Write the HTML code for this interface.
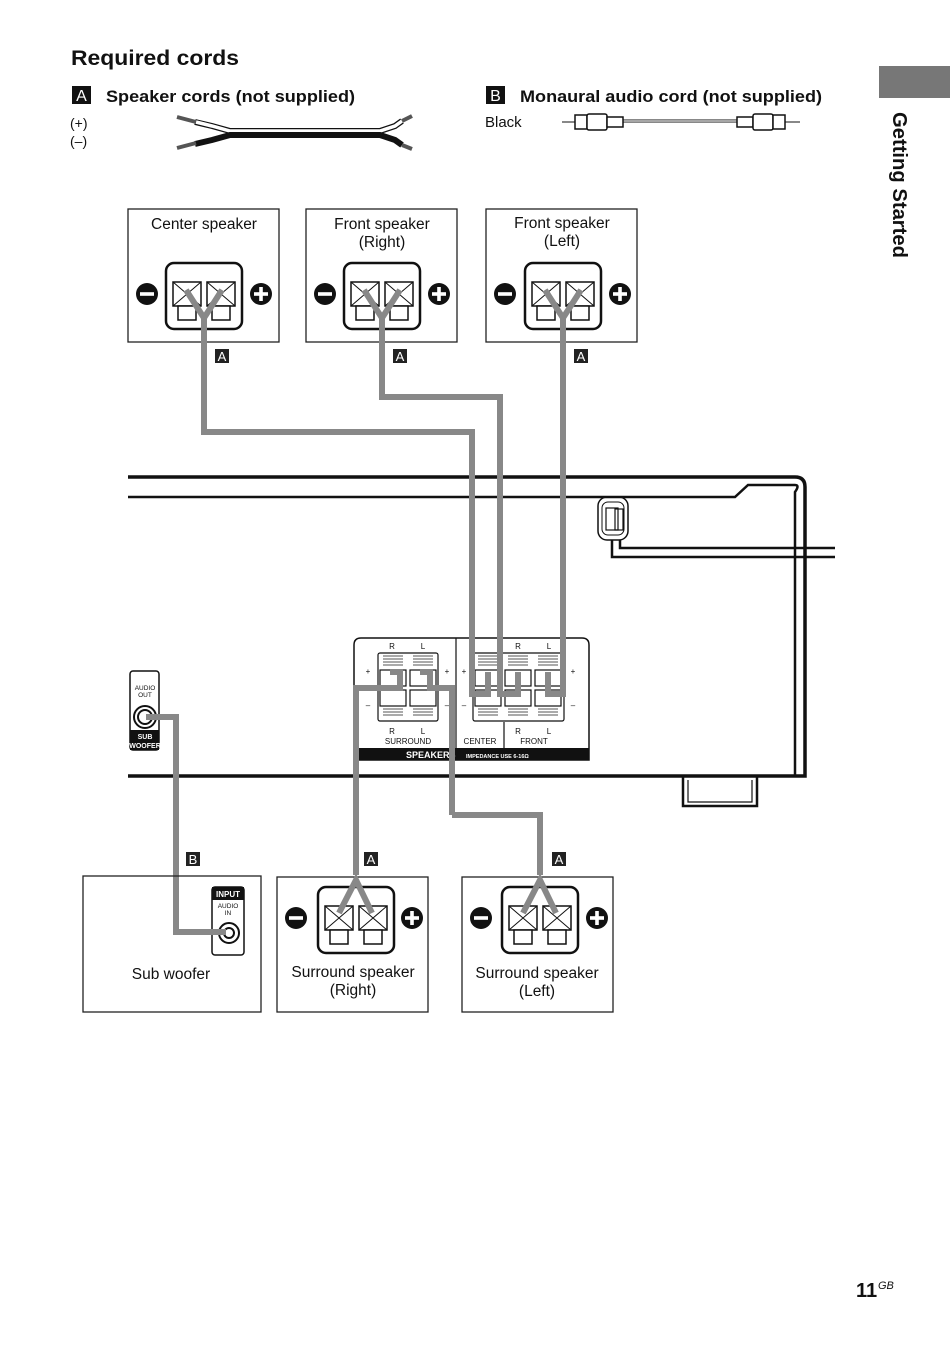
<!DOCTYPE html>
<html><head><meta charset="utf-8"><style>
html,body{margin:0;padding:0;background:#fff}
svg{display:block}
text{font-family:"Liberation Sans",Arial,sans-serif}
</style></head><body>
<svg width="950" height="1345" viewBox="0 0 950 1345" xmlns="http://www.w3.org/2000/svg">
<defs>
<g id="term">
  <rect x="-38" y="-31" width="76" height="66" rx="8" fill="#fff" stroke="#111" stroke-width="2.5"/>
  <rect x="-31" y="-12" width="28" height="24" fill="#fff" stroke="#111" stroke-width="1.5"/>
  <rect x="3" y="-12" width="28" height="24" fill="#fff" stroke="#111" stroke-width="1.5"/>
  <path d="M-31 -12 L-3 12 M-3 -12 L-31 12 M3 -12 L31 12 M31 -12 L3 12" stroke="#111" stroke-width="1"/>
  <rect x="-26" y="12" width="18" height="14" fill="#fff" stroke="#111" stroke-width="1.5"/>
  <rect x="8" y="12" width="18" height="14" fill="#fff" stroke="#111" stroke-width="1.5"/>
</g>
<g id="minus"><circle r="11" fill="#111"/><rect x="-7" y="-1.8" width="14" height="3.6" fill="#fff"/></g>
<g id="plus"><circle r="11" fill="#111"/><rect x="-7" y="-1.8" width="14" height="3.6" fill="#fff"/><rect x="-1.8" y="-7" width="3.6" height="14" fill="#fff"/></g>
<g id="lblA"><rect x="0" y="0" width="14" height="14" fill="#222"/><text x="7" y="12" font-size="13" fill="#fff" text-anchor="middle">A</text></g>
<g id="lblB"><rect x="0" y="0" width="14" height="14" fill="#222"/><text x="7" y="12" font-size="13" fill="#fff" text-anchor="middle">B</text></g>
</defs>

<!-- Header -->
<text x="71" y="65" font-size="21" font-weight="bold" fill="#111" textLength="168" lengthAdjust="spacingAndGlyphs">Required cords</text>
<rect x="72" y="86" width="19" height="18" fill="#111"/><text x="81.5" y="101" font-size="16" fill="#fff" text-anchor="middle">A</text>
<text x="106" y="102" font-size="17" font-weight="bold" fill="#111" textLength="249" lengthAdjust="spacingAndGlyphs">Speaker cords (not supplied)</text>
<rect x="486" y="86" width="19" height="18" fill="#111"/><text x="495.5" y="101" font-size="16" fill="#fff" text-anchor="middle">B</text>
<text x="520" y="102" font-size="17" font-weight="bold" fill="#111" textLength="302" lengthAdjust="spacingAndGlyphs">Monaural audio cord (not supplied)</text>
<text x="70" y="128" font-size="14" fill="#111">(+)</text>
<text x="70" y="146" font-size="14" fill="#111">(–)</text>
<text x="485" y="127" font-size="15" fill="#111">Black</text>

<!-- speaker cord -->
<path d="M195 122 L212 126 L230 131 L380 131 L395 126 L402 121" fill="none" stroke="#111" stroke-width="6"/>
<path d="M196 122 L212 126 L230 131 L380 131 L395 126 L402 121" fill="none" stroke="#fff" stroke-width="3.5"/>
<path d="M195 144 L212 140 L230 135 L380 135 L395 140 L402 145" fill="none" stroke="#111" stroke-width="6"/>
<path d="M177 117 L196 122 M177 148 L196 143 M402 121 L412 116 M402 145 L412 149" stroke="#555" stroke-width="4"/>

<!-- monaural cord -->
<line x1="562" y1="122" x2="800" y2="122" stroke="#111" stroke-width="1"/>
<line x1="600" y1="121" x2="740" y2="121" stroke="#111" stroke-width="3"/>
<line x1="600" y1="121" x2="740" y2="121" stroke="#fff" stroke-width="1.2"/>
<rect x="575" y="115" width="12" height="14" fill="#fff" stroke="#111" stroke-width="1.5"/>
<rect x="587" y="114" width="20" height="16" rx="2" fill="#fff" stroke="#111" stroke-width="1.5"/>
<rect x="607" y="117" width="16" height="10" fill="#fff" stroke="#111" stroke-width="1.5"/>
<rect x="737" y="117" width="16" height="10" fill="#fff" stroke="#111" stroke-width="1.5"/>
<rect x="753" y="114" width="20" height="16" rx="2" fill="#fff" stroke="#111" stroke-width="1.5"/>
<rect x="773" y="115" width="12" height="14" fill="#fff" stroke="#111" stroke-width="1.5"/>

<!-- Side tab -->
<rect x="879" y="66" width="71" height="32" fill="#777"/>
<text transform="translate(893,112) rotate(90)" font-size="20" font-weight="bold" fill="#111" textLength="146" lengthAdjust="spacingAndGlyphs">Getting Started</text>

<!-- Top speaker boxes -->
<g fill="#fff" stroke="#222" stroke-width="1.3">
<rect x="128" y="209" width="151" height="133"/>
<rect x="306" y="209" width="151" height="133"/>
<rect x="486" y="209" width="151" height="133"/>
</g>
<text x="204" y="229" font-size="15.5" text-anchor="middle" fill="#111">Center speaker</text>
<text x="382" y="229" font-size="15.5" text-anchor="middle" fill="#111">Front speaker</text>
<text x="382" y="247" font-size="15.5" text-anchor="middle" fill="#111">(Right)</text>
<text x="562" y="228" font-size="15.5" text-anchor="middle" fill="#111">Front speaker</text>
<text x="562" y="246" font-size="15.5" text-anchor="middle" fill="#111">(Left)</text>
<use href="#term" x="204" y="294"/><use href="#minus" x="147" y="294"/><use href="#plus" x="261" y="294"/>
<use href="#term" x="382" y="294"/><use href="#minus" x="325" y="294"/><use href="#plus" x="439" y="294"/>
<use href="#term" x="563" y="294"/><use href="#minus" x="505" y="294"/><use href="#plus" x="620" y="294"/>

<!-- Receiver body -->
<g fill="none" stroke="#111">
<path d="M128 477 L795 477 Q805 477 805 487 L805 776 L128 776" stroke-width="3.5"/>
<path d="M128 497 L735 497 L748 485 L795 485 Q800 485 795 492 L795 776" stroke-width="2.5"/>
<path d="M683 776 L683 806 L757 806 L757 776" stroke-width="2.5"/>
<path d="M688 780 L688 802 L752 802 L752 780" stroke-width="1.2"/>
<path d="M612 540 L612 557 L835 557 M620 540 L620 548 L835 548" stroke-width="2.5"/>
<rect x="598" y="497" width="30" height="43" rx="9" stroke-width="1.5"/>
<rect x="602" y="502" width="22" height="33" rx="6" stroke-width="1"/>
<rect x="606" y="508" width="12" height="22" stroke-width="1.2"/>
<rect x="615" y="509" width="8" height="21" stroke-width="1.2"/>
</g>

<!-- Sub woofer out panel -->
<rect x="130" y="671" width="29" height="79" rx="3" fill="#fff" stroke="#111" stroke-width="1.5"/>
<rect x="130" y="730" width="29" height="20" fill="#111"/>
<text x="145" y="690" font-size="6.5" text-anchor="middle" fill="#111">AUDIO</text>
<text x="145" y="697" font-size="6.5" text-anchor="middle" fill="#111">OUT</text>
<text x="145" y="739" font-size="7" font-weight="bold" text-anchor="middle" fill="#fff">SUB</text>
<text x="145" y="748" font-size="7" font-weight="bold" text-anchor="middle" fill="#fff">WOOFER</text>
<circle cx="145" cy="717" r="11" fill="#fff" stroke="#111" stroke-width="2"/>
<circle cx="145" cy="717" r="7" fill="#fff" stroke="#111" stroke-width="2"/>

<!-- Speaker terminal panel -->
<path d="M354 760 L354 645 Q354 638 361 638 L582 638 Q589 638 589 645 L589 760 Z" fill="#fff" stroke="#111" stroke-width="1.5"/>
<rect x="354" y="748" width="235" height="12" fill="#111"/>
<line x1="456" y1="638" x2="456" y2="748" stroke="#111" stroke-width="1.2"/>
<line x1="504" y1="722" x2="504" y2="748" stroke="#111" stroke-width="1.2"/>
<text x="406" y="758" font-size="9" font-weight="bold" fill="#fff">SPEAKERS</text>
<text x="466" y="758" font-size="5.5" font-weight="bold" fill="#fff">IMPEDANCE USE 6-16Ω</text>
<g font-size="8" fill="#111" text-anchor="middle">
<text x="392" y="649">R</text><text x="423" y="649">L</text>
<text x="518" y="649">R</text><text x="549" y="649">L</text>
<text x="392" y="734">R</text><text x="423" y="734">L</text>
<text x="518" y="734">R</text><text x="549" y="734">L</text>
<text x="408" y="744">SURROUND</text><text x="480" y="744">CENTER</text><text x="534" y="744">FRONT</text>
<text x="368" y="674">+</text><text x="447" y="674">+</text><text x="464" y="674">+</text><text x="573" y="674">+</text>
<text x="368" y="708">–</text><text x="447" y="708">–</text><text x="464" y="708">–</text><text x="573" y="708">–</text>
</g>
<g fill="#fff" stroke="#111" stroke-width="1.2">
<rect x="378" y="653" width="60" height="68" rx="2"/>
<rect x="473" y="653" width="91" height="68" rx="2"/>
<rect x="380" y="670" width="26" height="16"/><rect x="410" y="670" width="26" height="16"/>
<rect x="380" y="690" width="26" height="16"/><rect x="410" y="690" width="26" height="16"/>
<rect x="475" y="670" width="26" height="16"/><rect x="505" y="670" width="26" height="16"/><rect x="535" y="670" width="26" height="16"/>
<rect x="475" y="690" width="26" height="16"/><rect x="505" y="690" width="26" height="16"/><rect x="535" y="690" width="26" height="16"/>
</g>
<g stroke="#555" stroke-width="1">
<path d="M383 656h20M383 659h20M383 662h20M383 665h20M413 656h20M413 659h20M413 662h20M413 665h20"/>
<path d="M383 709h20M383 712h20M383 715h20M413 709h20M413 712h20M413 715h20"/>
<path d="M478 656h20M478 659h20M478 662h20M478 665h20M508 656h20M508 659h20M508 662h20M508 665h20M538 656h20M538 659h20M538 662h20M538 665h20"/>
<path d="M478 709h20M478 712h20M478 715h20M508 709h20M508 712h20M508 715h20M538 709h20M538 712h20M538 715h20"/>
</g>

<!-- Wires -->
<g fill="none" stroke="#888" stroke-width="6" stroke-linejoin="miter">
<path d="M186 290 L204 318 L222 290 M204 318 L204 432 L472 432 L472 694 L488 694 L488 672"/>
<path d="M364 290 L382 318 L400 290 M382 318 L382 397 L500 397 L500 694 L518 694 L518 672"/>
<path d="M545 290 L563 318 L581 290 M563 318 L563 694 L548 694 L548 672"/>
<path d="M356 875 L356 688 L400 688 L400 672 L390 672"/>
<path d="M452 815 L452 688 L430 688 L430 672 L420 672"/>
<path d="M452 815 L540 815 L540 875"/>
<path d="M146 717 L176 717 L176 932 L228 932"/>
</g>

<use href="#lblA" x="215" y="349"/>
<use href="#lblA" x="393" y="349"/>
<use href="#lblA" x="574" y="349"/>
<use href="#lblB" x="186" y="852"/>
<use href="#lblA" x="364" y="852"/>
<use href="#lblA" x="552" y="852"/>

<!-- Bottom boxes -->
<g fill="none" stroke="#222" stroke-width="1.3">
<rect x="83" y="876" width="178" height="136"/>
<rect x="277" y="877" width="151" height="135"/>
<rect x="462" y="877" width="151" height="135"/>
</g>
<!-- sub input panel -->
<rect x="212" y="887" width="32" height="68" rx="3" fill="#fff" stroke="#111" stroke-width="1.5"/>
<rect x="212" y="887" width="32" height="13" fill="#111"/>
<text x="228" y="897" font-size="8" font-weight="bold" text-anchor="middle" fill="#fff">INPUT</text>
<text x="228" y="908" font-size="6.5" text-anchor="middle" fill="#111">AUDIO</text>
<text x="228" y="915" font-size="6.5" text-anchor="middle" fill="#111">IN</text>
<circle cx="229" cy="933" r="10" fill="#fff" stroke="#111" stroke-width="2"/>
<circle cx="229" cy="933" r="5" fill="#fff" stroke="#111" stroke-width="2"/>
<path d="M176 932 L226 932" stroke="#888" stroke-width="6"/>
<text x="171" y="979" font-size="15.5" text-anchor="middle" fill="#111">Sub woofer</text>

<use href="#term" x="356" y="918"/><use href="#minus" x="296" y="918"/><use href="#plus" x="412" y="918"/>
<use href="#term" x="540" y="918"/><use href="#minus" x="481" y="918"/><use href="#plus" x="597" y="918"/>
<g fill="none" stroke="#888" stroke-width="6">
<path d="M339 913 L356 880 L372 913"/>
<path d="M523 913 L540 880 L556 913"/>
</g>
<text x="353" y="977" font-size="15.5" text-anchor="middle" fill="#111">Surround speaker</text>
<text x="353" y="995" font-size="15.5" text-anchor="middle" fill="#111">(Right)</text>
<text x="537" y="978" font-size="15.5" text-anchor="middle" fill="#111">Surround speaker</text>
<text x="537" y="996" font-size="15.5" text-anchor="middle" fill="#111">(Left)</text>

<!-- Page number -->
<text x="856" y="1297" font-size="20" font-weight="bold" fill="#111">11</text>
<text x="878" y="1289" font-size="11" font-style="italic" fill="#111">GB</text>
</svg>
</body></html>
